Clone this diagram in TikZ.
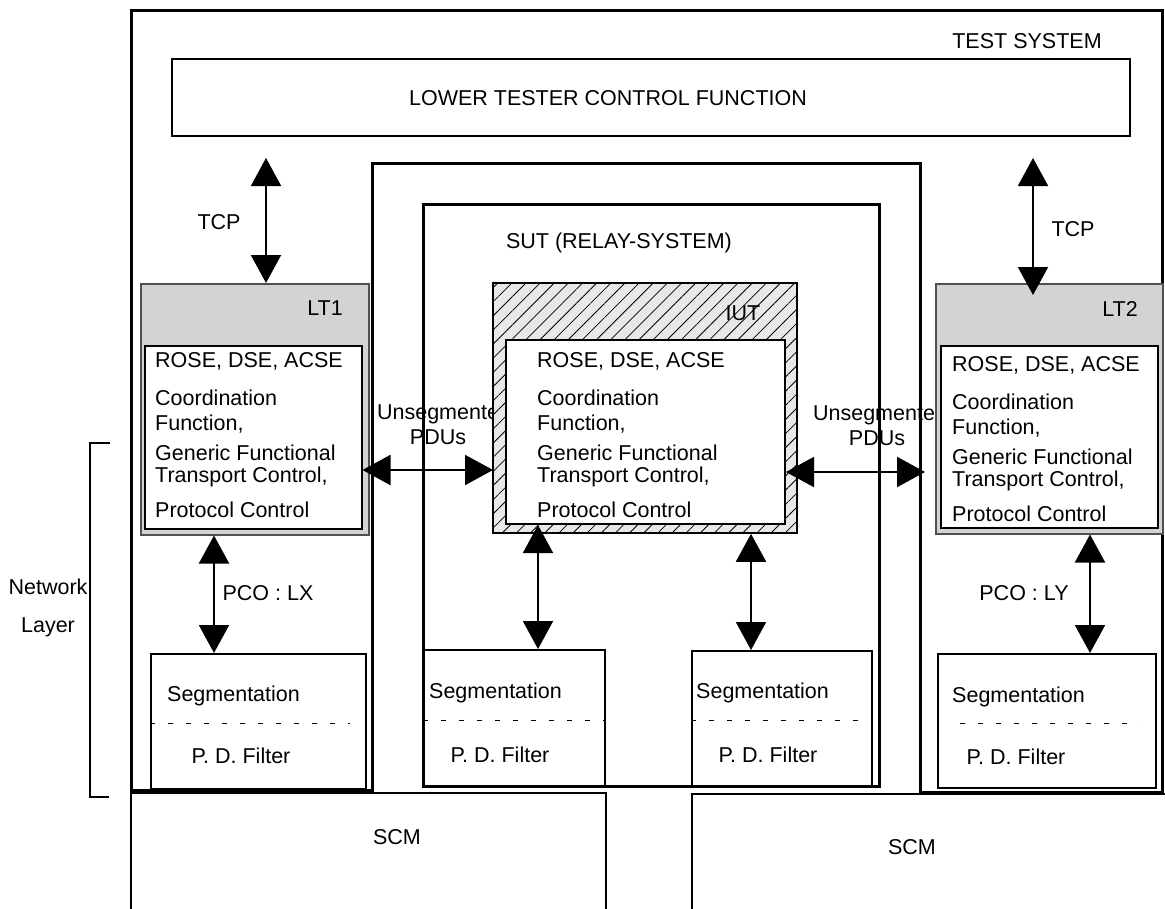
\documentclass[tikz,border=0pt]{standalone}
\usepackage{fontspec}
\setmainfont{Liberation Sans}
\usetikzlibrary{arrows.meta}
\usetikzlibrary{patterns.meta}
\usepackage{xcolor}

\definecolor{boxgray}{RGB}{211,211,211}
\definecolor{hatchgray}{RGB}{232,232,232}
\definecolor{edgegray}{RGB}{80,80,80}

\tikzset{
  lbl/.style={inner sep=0pt, text height=15.4pt, text depth=0pt},
  stacktext/.style={lbl, anchor=west},
  blk/.style={draw, rectangle, inner sep=0pt, anchor=north west, line width=2pt},
  ltbox/.style={blk, fill=boxgray, draw=edgegray, line width=1.5pt},
  inbox/.style={blk, fill=white, line width=1.5pt},
  iutbox/.style={blk, preaction={fill=hatchgray}, pattern={Lines[angle=45,distance=10pt,line width=0.8pt]}},
  heavy/.style={line width=3pt},
  dbl/.style={line width=2pt, {Triangle[length=28pt,width=30pt]}-{Triangle[length=28pt,width=30pt]}},
  dotsep/.style={line width=1pt, dash pattern=on 5pt off 13pt}
}

% box from its upper left to its lower right corner
\newcommand{\blockat}[6]{\node[#1, minimum width={#5-#3}, minimum height={#6-#4}] (#2) at (#3,#4) {};}
% the protocol text inside LT1, IUT and LT2
\newcommand{\protostack}[3]{%
  \foreach \dy/\txt [count=\i] in {0/{ROSE, DSE, ACSE}, 38/{Coordination}, 63/{Function,}, 93/{Generic Functional}, 115/{Transport Control,}, 150/{Protocol Control}}
    \node[stacktext] (#1-\i) at (#2,#3+\dy) {\txt};%
}

\begin{document}
\begin{tikzpicture}[x=1pt, y=-1pt, font=\fontsize{21.5pt}{25pt}\selectfont]
\path[use as bounding box, fill=white] (0,0) rectangle (1165,908);

%labels that the boxes cover in part
\node[lbl] (unsegL) at (444,412) {Unsegmented};
\node[lbl] (pduL) at (438,437) {PDUs};
\node[lbl] (unsegR) at (880,413) {Unsegmented};
\node[lbl] (pduR) at (877,438) {PDUs};

%test system, with the relay system cut out of it
\draw [heavy] (131,790) -- (131,10) -- (1162,10) -- (1162,792) -- (920,792) -- (920,163) -- (372,163) -- (372,790) -- cycle;
\node[lbl] (testsys) at (1027,41) {TEST SYSTEM};

\blockat{blk}{ltcf}{171}{58}{1129}{135}
\node[lbl] (ltcflabel) at (608,98) {LOWER TESTER CONTROL FUNCTION};

\blockat{blk, heavy}{sut}{422}{203}{878}{785}
\node[lbl] (sutlabel) at (619,241) {SUT (RELAY-SYSTEM)};

%lower testers and IUT
\blockat{ltbox}{lt1}{140}{283}{368}{534}
\blockat{inbox}{lt1in}{144}{345}{361}{528}
\node[lbl] (lt1label) at (325,308) {LT1};
\protostack{lt1txt}{155}{360}

\blockat{iutbox}{iut}{493}{283}{797}{533}
\blockat{inbox, line width=2pt}{iutin}{505}{339}{784}{523}
\node[lbl] (iutlabel) at (743,313) {IUT};
\protostack{iuttxt}{537}{360}

\blockat{ltbox}{lt2}{935}{283}{1162}{533}
\blockat{inbox}{lt2in}{940}{345}{1157}{527}
\node[lbl] (lt2label) at (1120,309) {LT2};
\protostack{lt2txt}{952}{364}

%segmentation boxes
\blockat{blk}{segA}{150}{653}{365}{788}
\blockat{blk}{segB}{423}{649}{604}{785}
\blockat{blk}{segC}{691}{650}{871}{785}
\blockat{blk}{segD}{937}{653}{1155}{787}
\draw [dotsep] (150,723) -- (350,723);
\draw [dotsep] (423,720) -- (604,720);
\draw [dotsep] (691,720) -- (871,720);
\draw [dotsep] (960,723) -- (1140,723);
\node[stacktext] (segAtop) at (167,694) {Segmentation};
\node[stacktext] (segBtop) at (429,691) {Segmentation};
\node[stacktext] (segCtop) at (696,691) {Segmentation};
\node[stacktext] (segDtop) at (952,695) {Segmentation};
\node[lbl] (segAbot) at (241,756) {P. D. Filter};
\node[lbl] (segBbot) at (500,755) {P. D. Filter};
\node[lbl] (segCbot) at (768,755) {P. D. Filter};
\node[lbl] (segDbot) at (1016,757) {P. D. Filter};

%SCM boxes run off the page
\blockat{blk}{scmL}{130}{792}{605}{930}
\blockat{blk}{scmR}{691}{793}{1180}{930}
\node[lbl] (scmLlabel) at (397,837) {SCM};
\node[lbl] (scmRlabel) at (912,847) {SCM};

%network layer bracket
\draw [line width=1.5pt] (110,443) -- (90,443) -- (90,797) -- (109,797);
\node[lbl] (netlabel) at (48,587) {Network};
\node[lbl] (layerlabel) at (48,625) {Layer};

%connectors
\coordinate (tcpL) at (266,158);
\coordinate (tcpR) at (1033,158);
\draw [dbl] (tcpL) -- (tcpL |- lt1.north);
\draw [dbl, shorten >=-12pt] (tcpR) -- (tcpR |- lt2.north);
\node[lbl] (tcpLlabel) at (219,222) {TCP};
\node[lbl] (tcpRlabel) at (1073,229) {TCP};

\coordinate (pcoX) at (214,600);
\coordinate (pcoY) at (1090,600);
\draw [dbl] (lt1.south -| pcoX) -- (segA.north -| pcoX);
\draw [dbl] (lt2.south -| pcoY) -- (segD.north -| pcoY);
\node[lbl] (pcoXlabel) at (268,593) {PCO : LX};
\node[lbl] (pcoYlabel) at (1024,593) {PCO : LY};

\coordinate (downA) at (538,600);
\coordinate (downB) at (751,600);
\draw [dbl] (iutin.south -| downA) -- (segB.north -| downA);
\draw [dbl] (iut.south -| downB) -- (segC.north -| downB);

\coordinate (pduLrow) at (0,470);
\coordinate (pduRend) at (925,472);
\draw [dbl] (lt1in.east |- pduLrow) -- (iut.west |- pduLrow);
\draw [dbl] (iutin.east |- pduRend) -- (pduRend);

\end{tikzpicture}
\end{document}
